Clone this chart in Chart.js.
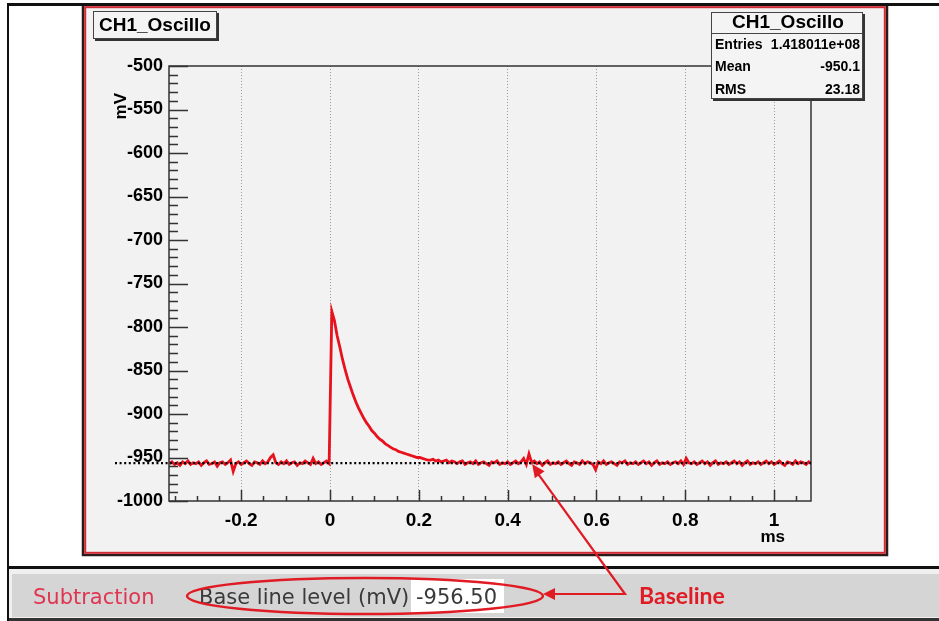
<!DOCTYPE html>
<html>
<head>
<meta charset="utf-8">
<script src="https://cdn.jsdelivr.net/npm/chart.js@4.4.0/dist/chart.umd.min.js"></script>
<style>
  html, body { margin: 0; padding: 0; background: #fff; }
  canvas { display: block; }
</style>
</head>
<body>
<canvas id="scope" width="939" height="621"></canvas>
<script>
// scope record: first sample time (ms), sample interval (ms), samples (mV)
const sampleStart = -0.362;
const sampleStep = 0.006;
const preTrigger = [
  -957, -955, -958, -956, -959, -955, -957, -954, -958, -956,
  -957, -955, -959, -956, -954, -958, -957, -955, -960, -956,
  -955, -958, -956, -953, -966, -957, -955, -958, -956, -954,
  -957, -959, -955, -956, -958, -954, -957, -955, -950, -947,
  -956, -958, -955, -957, -954, -958, -956, -955, -959, -956,
  -957, -954, -956, -958, -951, -957, -955, -958, -956, -954,
  -957
];
const pulse = [
  -782, -793, -810, -823, -837, -849, -860, -869, -878, -886,
  -893, -899, -905, -910, -914, -919, -922, -926, -929, -931,
  -934, -936, -938, -940, -941, -943, -944, -945, -946, -947,
  -948, -949, -950, -950, -951, -952, -953
];
const tail = [
  -953, -952, -954, -953, -955, -954, -953, -956, -954, -955,
  -957, -955, -954, -958, -956, -955, -957, -954, -958, -956,
  -955, -957, -959, -955, -956, -954, -958, -956, -957, -955,
  -958, -956, -954, -957, -955, -951, -958, -946, -956, -954,
  -957, -955, -959, -956, -954, -958, -956, -957, -955, -958,
  -956, -954, -957, -959, -955, -956, -958, -954, -957, -955,
  -956, -958, -964, -955, -957, -954, -958, -956, -955, -957,
  -959, -955, -956, -954, -958, -956, -957, -955, -958, -956,
  -954, -957, -955, -959, -956, -954, -958, -956, -957, -955,
  -958, -956, -955, -957, -954, -958, -951, -956, -957, -955,
  -958, -956, -954, -957, -955, -959, -956, -954, -958, -956,
  -957, -955, -958, -956, -954, -957, -955, -959, -956, -954,
  -958, -956, -957, -955, -958, -956, -954, -957, -955, -958,
  -956, -954, -957, -959, -955, -956, -958, -954, -957, -955,
  -956, -958, -955, -957
];

const xTickValues = [-0.2, 0, 0.2, 0.4, 0.6, 0.8, 1];
const xTickLabels = ['-0.2', '0', '0.2', '0.4', '0.6', '0.8', '1'];
const yTickValues = [-1000, -950, -900, -850, -800, -750, -700, -650, -600, -550, -500];

const baselineLevel = -956.5;
const histTitle = 'CH1_Oscillo';
const statsRows = [['Entries', '1.418011e+08'], ['Mean', '-950.1'], ['RMS', '23.18']];
const arrowTarget = { t: 0.455, mv: -953 };

const signal = preTrigger.concat(pulse, tail);
const points = signal.map((v, i) => ({ x: sampleStart + i * sampleStep, y: v }));

const ROOT_FONT = '"Liberation Sans", Arial, Helvetica, sans-serif';
const GUI_FONT = '"DejaVu Sans", sans-serif';

function shadowBox(ctx, x, y, w, h) {
  ctx.fillStyle = '#333';
  ctx.fillRect(x + 2, y + 2, w, h);
  ctx.fillStyle = '#f4f4f4';
  ctx.fillRect(x, y, w, h);
  ctx.strokeStyle = '#444';
  ctx.lineWidth = 1;
  ctx.strokeRect(x + 0.5, y + 0.5, w - 1, h - 1);
}

function arrowHead(ctx, fromX, fromY, toX, toY, len, half) {
  const a = Math.atan2(toY - fromY, toX - fromX);
  ctx.beginPath();
  ctx.moveTo(toX, toY);
  ctx.lineTo(toX - len * Math.cos(a) + half * Math.sin(a), toY - len * Math.sin(a) - half * Math.cos(a));
  ctx.lineTo(toX - len * Math.cos(a) - half * Math.sin(a), toY - len * Math.sin(a) + half * Math.cos(a));
  ctx.closePath();
  ctx.fill();
}

const rootDecor = {
  id: 'rootDecor',
  beforeDraw(chart) {
    const ctx = chart.ctx;
    ctx.save();
    ctx.fillStyle = '#fff';
    ctx.fillRect(0, 0, chart.width, chart.height);

    // pad: dark edge with red highlight just inside
    ctx.fillStyle = '#f2f2f2';
    ctx.fillRect(82, 5, 806, 551);
    ctx.strokeStyle = '#2a1a1a';
    ctx.lineWidth = 2.5;
    ctx.strokeRect(83, 5, 804, 550);
    ctx.strokeStyle = '#d42a35';
    ctx.lineWidth = 2;
    ctx.strokeRect(85.2, 7.2, 799.6, 545.6);

    // window lines
    ctx.fillStyle = '#111';
    ctx.fillRect(7, 3, 932, 3);
    ctx.fillRect(7, 3, 2, 618);
    ctx.fillRect(7, 566, 932, 3);

    // bottom control bar
    ctx.fillStyle = '#f0f0f0';
    ctx.fillRect(9, 569, 930, 52);
    ctx.fillStyle = '#d5d5d5';
    ctx.fillRect(12, 574, 927, 43);
    ctx.fillStyle = '#333';
    ctx.fillRect(9, 618, 930, 3);
    ctx.restore();
  },
  afterDatasetsDraw(chart) {
    const ctx = chart.ctx;
    const area = chart.chartArea;
    const xs = chart.scales.x;
    const ys = chart.scales.y;
    ctx.save();

    // frame
    ctx.strokeStyle = '#333';
    ctx.lineWidth = 1.5;
    ctx.strokeRect(area.left, area.top, area.right - area.left, area.bottom - area.top);

    // y ticks every 10 mV, long every 50
    ctx.beginPath();
    for (let v = -1000; v <= -500; v += 10) {
      const y = Math.round(ys.getPixelForValue(v)) + 0.5;
      const len = v % 50 === 0 ? 19 : 9;
      ctx.moveTo(area.left, y);
      ctx.lineTo(area.left + len, y);
    }
    // x ticks every 0.05 ms, long every 0.2
    for (let i = -7; i <= 21; i++) {
      const x = Math.round(xs.getPixelForValue(i * 0.05)) + 0.5;
      const len = i % 4 === 0 ? 11 : 5;
      ctx.moveTo(x, area.bottom);
      ctx.lineTo(x, area.bottom - len);
    }
    ctx.stroke();

    // baseline level, dotted
    const yb = ys.getPixelForValue(baselineLevel);
    ctx.strokeStyle = '#000';
    ctx.lineWidth = 2.2;
    ctx.setLineDash([2, 2.6]);
    ctx.beginPath();
    ctx.moveTo(115, yb);
    ctx.lineTo(area.right, yb);
    ctx.stroke();
    ctx.setLineDash([]);

    // axis titles
    ctx.fillStyle = '#000';
    ctx.font = 'bold 17px ' + ROOT_FONT;
    ctx.textBaseline = 'middle';
    ctx.textAlign = 'right';
    ctx.fillText('ms', 785, 537);
    ctx.save();
    ctx.translate(121, 93);
    ctx.rotate(-Math.PI / 2);
    ctx.textAlign = 'right';
    ctx.fillText('mV', 0, 0);
    ctx.restore();

    // title box
    shadowBox(ctx, 93, 11, 124, 28);
    ctx.fillStyle = '#000';
    ctx.font = 'bold 19px ' + ROOT_FONT;
    ctx.textAlign = 'left';
    ctx.fillText(histTitle, 99, 26);

    // stats box
    shadowBox(ctx, 711, 12, 152, 87);
    ctx.strokeStyle = '#444';
    ctx.lineWidth = 1;
    ctx.beginPath();
    ctx.moveTo(711, 33.5);
    ctx.lineTo(863, 33.5);
    ctx.stroke();
    ctx.fillStyle = '#000';
    ctx.font = 'bold 19px ' + ROOT_FONT;
    ctx.textAlign = 'center';
    ctx.fillText(histTitle, 788, 23);
    ctx.font = 'bold 14px ' + ROOT_FONT;
    statsRows.forEach((row, i) => {
      const y = 45 + i * 22.5;
      ctx.textAlign = 'left';
      ctx.fillText(row[0], 715, y);
      ctx.textAlign = 'right';
      ctx.fillText(row[1], 860, y);
    });

    // control bar
    ctx.textAlign = 'left';
    ctx.textBaseline = 'alphabetic';
    ctx.font = '21px ' + GUI_FONT;
    ctx.fillStyle = '#e03550';
    ctx.fillText('Subtraction', 33, 604);
    ctx.fillStyle = '#3a3a3a';
    ctx.fillText('Base line level (mV)', 199, 604);
    ctx.fillStyle = '#fff';
    ctx.fillRect(411, 579, 93, 34);
    ctx.fillStyle = '#3a3a3a';
    ctx.fillText('-956.50', 416, 604);

    // annotation
    ctx.strokeStyle = '#e01b24';
    ctx.fillStyle = '#e01b24';
    ctx.lineWidth = 2.5;
    ctx.beginPath();
    ctx.ellipse(365, 596, 178, 18, 0, 0, Math.PI * 2);
    ctx.stroke();

    const cx = 625, cy = 594;
    const tipX = xs.getPixelForValue(arrowTarget.t);
    const tipY = ys.getPixelForValue(arrowTarget.mv) + 4;
    ctx.lineWidth = 2.2;
    ctx.beginPath();
    ctx.moveTo(552, cy);
    ctx.lineTo(cx, cy);
    ctx.lineTo(tipX + 4, tipY + 7);
    ctx.stroke();
    arrowHead(ctx, cx, cy, 543, cy, 12, 6);
    arrowHead(ctx, cx, cy, tipX, tipY, 13, 6);

    ctx.font = 'bold 23px Lato, sans-serif';
    ctx.fillStyle = '#e01b24';
    ctx.fillText('Baseline', 639, 604);
    ctx.restore();
  }
};

new Chart(document.getElementById('scope'), {
  type: 'line',
  data: {
    datasets: [{
      label: histTitle,
      data: points,
      borderColor: '#e8121e',
      borderWidth: 2.8,
      pointRadius: 0,
      tension: 0,
      fill: false
    }]
  },
  options: {
    responsive: false,
    animation: false,
    events: [],
    layout: { padding: { top: 66, right: 128, left: 0, bottom: 0 } },
    plugins: { legend: { display: false }, title: { display: false }, tooltip: { enabled: false } },
    scales: {
      x: {
        type: 'linear',
        min: -0.3626,
        max: 1.083,
        afterBuildTicks: s => { s.ticks = xTickValues.map(v => ({ value: v })); },
        afterFit: s => { s.height = 120; },
        grid: { color: '#9a9a9a', lineWidth: 1, drawTicks: false },
        border: { display: false, dash: [1, 2] },
        ticks: {
          padding: 8,
          color: '#000',
          font: { family: ROOT_FONT, weight: 'bold', size: 19 },
          callback: (v, i) => xTickLabels[i]
        }
      },
      y: {
        type: 'linear',
        min: -1000,
        max: -500,
        afterBuildTicks: s => { s.ticks = yTickValues.map(v => ({ value: v })); },
        afterFit: s => { s.width = 169; },
        grid: { display: false, drawTicks: false },
        border: { display: false },
        ticks: {
          padding: 6,
          color: '#000',
          font: { family: ROOT_FONT, weight: 'bold', size: 18 },
          callback: v => String(v)
        }
      }
    }
  },
  plugins: [rootDecor]
});
</script>
</body>
</html>
